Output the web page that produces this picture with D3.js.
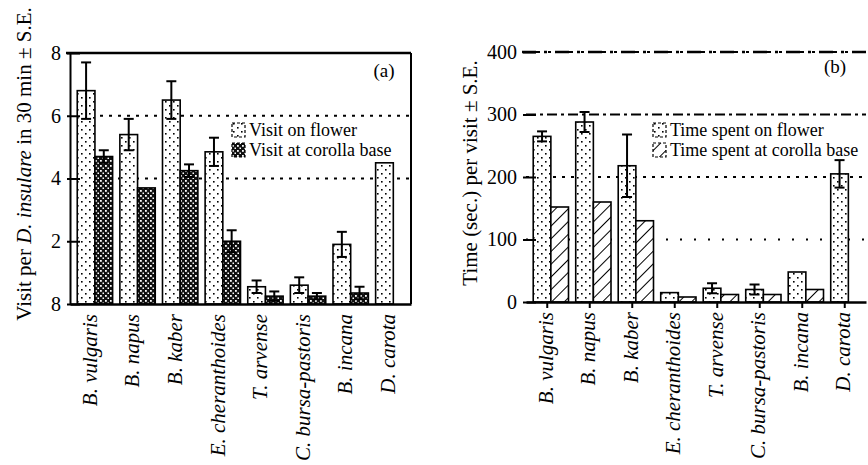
<!DOCTYPE html>
<html>
<head>
<meta charset="utf-8">
<title>D. insulare visits and time per visit</title>
<script src="https://d3js.org/d3.v7.min.js"></script>
<style>
  body { margin: 0; background: white; }
</style>
</head>
<body>
<div id="chart"></div>
<script>
var species = ["B. vulgaris", "B. napus", "B. kaber", "E. cheranthoides", "T. arvense", "C. bursa-pastoris", "B. incana", "D. carota"];

// panel (a): visits per 30 min
var visitFlower = [6.8, 5.4, 6.5, 4.85, 0.55, 0.6, 1.9, 4.5];
var visitFlowerSE = [0.9, 0.5, 0.6, 0.45, 0.2, 0.25, 0.4, 0];
var visitBase = [4.7, 3.7, 4.25, 2.0, 0.25, 0.25, 0.35, 0];
var visitBaseSE = [0.2, 0, 0.2, 0.35, 0.15, 0.1, 0.2, 0];
var visitTicks = [0, 2, 4, 6, 8];
var visitTickLabels = ["8", "2", "4", "6", "8"];
var visitGrid = [4, 6];

// panel (b): time per visit (sec.)
var timeFlower = [265, 288, 218, 15, 22, 20, 48, 205];
var timeFlowerSE = [8, 16, 50, 0, 8, 8, 0, 22];
var timeBase = [152, 160, 130, 8, 12, 12, 20, 0];
var timeBaseSE = [0, 0, 0, 0, 0, 0, 0, 0];
var timeTicks = [0, 100, 200, 300, 400];
var timeTickLabels = ["0", "100", "200", "300", "400"];
var timeGrid = [100, 200, 300, 400];

var width = 868, height = 465;
var serif = "Liberation Serif";

var svg = d3.select("#chart").append("svg")
    .attr("width", width)
    .attr("height", height);

// fill patterns
var defs = svg.append("defs");

var stip = defs.append("pattern").attr("id", "stipple")
    .attr("patternUnits", "userSpaceOnUse").attr("width", 8).attr("height", 8);
stip.append("rect").attr("width", 8).attr("height", 8).attr("fill", "white");
stip.append("rect").attr("x", 1).attr("y", 1).attr("width", 1.6).attr("height", 1.6).attr("fill", "black");
stip.append("rect").attr("x", 5).attr("y", 5).attr("width", 1.6).attr("height", 1.6).attr("fill", "black");

var dense = defs.append("pattern").attr("id", "dense")
    .attr("patternUnits", "userSpaceOnUse").attr("width", 5).attr("height", 5);
dense.append("rect").attr("width", 5).attr("height", 5).attr("fill", "#111");
dense.append("rect").attr("x", 0).attr("y", 0).attr("width", 1.8).attr("height", 1.8).attr("fill", "white");
dense.append("rect").attr("x", 2.5).attr("y", 2.5).attr("width", 1.5).attr("height", 1.5).attr("fill", "white");

var hatch = defs.append("pattern").attr("id", "hatch")
    .attr("patternUnits", "userSpaceOnUse").attr("width", 9).attr("height", 9)
    .attr("patternTransform", "rotate(45)");
hatch.append("rect").attr("width", 9).attr("height", 9).attr("fill", "white");
hatch.append("line").attr("x1", 0).attr("y1", 0).attr("x2", 0).attr("y2", 9)
    .attr("stroke", "black").attr("stroke-width", 2);

function drawPanel(cfg) {
    var x = d3.scaleBand().domain(species).range([cfg.left, cfg.right]);
    var y = d3.scaleLinear().domain([0, cfg.max]).range([cfg.bottom, cfg.top]);
    var bw = x.bandwidth();
    var sub = d3.scaleBand().domain(["flower", "base"]).range([bw * 0.17, bw]);

    var g = svg.append("g");

    // dotted reference lines
    g.selectAll(".grid").data(cfg.grid).enter().append("line")
        .attr("x1", cfg.gridStart)
        .attr("x2", cfg.right)
        .attr("y1", function(d) { return y(d); })
        .attr("y2", function(d) { return y(d); })
        .attr("stroke", "black")
        .attr("stroke-width", 2)
        .attr("stroke-dasharray", function(d, i) { return cfg.gridDash[i]; });

    var rows = species.map(function(s, i) {
        return [
            {sp: s, key: "flower", v: cfg.flower[i], se: cfg.flowerSE[i], fill: "url(#stipple)"},
            {sp: s, key: "base", v: cfg.base[i], se: cfg.baseSE[i], fill: cfg.baseFill}
        ];
    });
    var bars = [].concat.apply([], rows);

    g.selectAll(".bar").data(bars).enter().append("rect")
        .attr("x", function(d) { return x(d.sp) + sub(d.key); })
        .attr("width", sub.bandwidth())
        .attr("y", function(d) { return y(d.v); })
        .attr("height", function(d) { return y(0) - y(d.v); })
        .attr("fill", function(d) { return d.fill; })
        .attr("stroke", "black")
        .attr("stroke-width", 1.6);

    // error bars
    var err = g.selectAll(".err").data(bars.filter(function(d) { return d.se > 0; }))
        .enter().append("g")
        .attr("transform", function(d) {
            return "translate(" + (x(d.sp) + sub(d.key) + sub.bandwidth() / 2) + ",0)";
        });
    err.append("line")
        .attr("y1", function(d) { return y(Math.max(0, d.v - d.se)); })
        .attr("y2", function(d) { return y(d.v + d.se); })
        .attr("stroke", "black").attr("stroke-width", 2);
    err.append("line")
        .attr("x1", -5).attr("x2", 5)
        .attr("y1", function(d) { return y(d.v + d.se); })
        .attr("y2", function(d) { return y(d.v + d.se); })
        .attr("stroke", "black").attr("stroke-width", 2);
    err.append("line")
        .attr("x1", -5).attr("x2", 5)
        .attr("y1", function(d) { return y(Math.max(0, d.v - d.se)); })
        .attr("y2", function(d) { return y(Math.max(0, d.v - d.se)); })
        .attr("stroke", "black").attr("stroke-width", 2);

    // y axis
    var yAxis = d3.axisLeft(y)
        .tickValues(cfg.ticks)
        .tickFormat(function(d, i) { return cfg.tickLabels[i]; })
        .tickSizeInner(-10)
        .tickSizeOuter(0)
        .tickPadding(9);
    var ya = g.append("g")
        .attr("transform", "translate(" + cfg.left + ",0)")
        .call(yAxis);
    ya.selectAll("text").style("font-family", serif).style("font-size", "20px");
    ya.selectAll(".tick line").attr("x1", -3).attr("stroke-width", 2);
    ya.select(".domain").attr("stroke-width", 2).attr("opacity", cfg.showLeft ? 1 : 0);

    // x axis with rotated species names
    var xAxis = d3.axisBottom(x).tickSize(cfg.xTick).tickSizeOuter(0).tickPadding(0);
    var xa = g.append("g")
        .attr("transform", "translate(0," + cfg.bottom + ")")
        .call(xAxis);
    xa.select(".domain").attr("stroke-width", 2.5);
    xa.selectAll(".tick line").attr("stroke-width", 2);
    xa.selectAll("text")
        .style("font-family", serif)
        .style("font-size", "21px")
        .style("font-style", "italic")
        .attr("text-anchor", "end")
        .attr("transform", "rotate(-90)")
        .attr("x", -10)
        .attr("y", -2)
        .attr("dy", "0.35em");

    // frame lines
    g.append("line")
        .attr("x1", cfg.left - 4).attr("x2", cfg.right)
        .attr("y1", y(cfg.max)).attr("y2", y(cfg.max))
        .attr("stroke", "black").attr("stroke-width", 2.5)
        .attr("stroke-dasharray", cfg.topDash);
    if (cfg.showRight) {
        g.append("line")
            .attr("x1", cfg.right).attr("x2", cfg.right)
            .attr("y1", y(cfg.max)).attr("y2", y(0))
            .attr("stroke", "black").attr("stroke-width", 2);
    }

    // y axis title
    var t = g.append("text")
        .attr("transform", "translate(" + cfg.titleX + "," + cfg.titleY + ") rotate(-90)")
        .attr("text-anchor", "middle")
        .attr("dy", "0.35em")
        .style("font-family", serif)
        .style("font-size", "21px");
    cfg.title.forEach(function(part) {
        t.append("tspan").text(part[0]).style("font-style", part[1] ? "italic" : "normal");
    });

    // panel letter
    g.append("text")
        .attr("x", cfg.letterX).attr("y", cfg.letterY)
        .attr("text-anchor", "middle")
        .attr("dy", "0.35em")
        .style("font-family", serif)
        .style("font-size", "19px")
        .text(cfg.letter);

    // legend
    var leg = g.selectAll(".leg").data(cfg.legend).enter().append("g")
        .attr("transform", function(d, i) { return "translate(" + cfg.legX + "," + (cfg.legY + i * 20) + ")"; });
    leg.append("rect")
        .attr("x", 0).attr("y", -7).attr("width", 13).attr("height", 14)
        .attr("fill", function(d) { return d[1]; })
        .attr("stroke", "black").attr("stroke-width", 1.2)
        .attr("stroke-dasharray", "3,2");
    leg.append("text")
        .attr("x", 17).attr("dy", "0.35em")
        .style("font-family", serif)
        .style("font-size", "18px")
        .text(function(d) { return d[0]; });
}

drawPanel({
    left: 70, right: 411, top: 53, bottom: 304, max: 8,
    flower: visitFlower, flowerSE: visitFlowerSE,
    base: visitBase, baseSE: visitBaseSE, baseFill: "url(#dense)",
    ticks: visitTicks, tickLabels: visitTickLabels,
    grid: visitGrid, gridDash: ["3,6", "3,6"], gridStart: 100,
    topDash: null, showLeft: true, showRight: true, xTick: 0,
    title: [["Visit per ", false], ["D. insulare", true], [" in 30 min \u00b1 S.E.", false]],
    titleX: 24, titleY: 164,
    letter: "(a)", letterX: 384, letterY: 70,
    legend: [["Visit on flower", "url(#stipple)"], ["Visit at corolla base", "url(#dense)"]],
    legX: 232, legY: 130
});

drawPanel({
    left: 526, right: 866, top: 52, bottom: 302, max: 400,
    flower: timeFlower, flowerSE: timeFlowerSE,
    base: timeBase, baseSE: timeBaseSE, baseFill: "url(#hatch)",
    ticks: timeTicks, tickLabels: timeTickLabels,
    grid: timeGrid, gridDash: ["2,12", "3,6", "10,4,3,4", "14,8,3,8"], gridStart: 526,
    topDash: "14,8,3,8", showLeft: false, showRight: false, xTick: 6,
    title: [["Time (sec.) per visit \u00b1 S.E.", false]],
    titleX: 470, titleY: 173,
    letter: "(b)", letterX: 835, letterY: 66,
    legend: [["Time spent on flower", "url(#stipple)"], ["Time spent at corolla base", "url(#hatch)"]],
    legX: 653, legY: 130
});
</script>
</body>
</html>
